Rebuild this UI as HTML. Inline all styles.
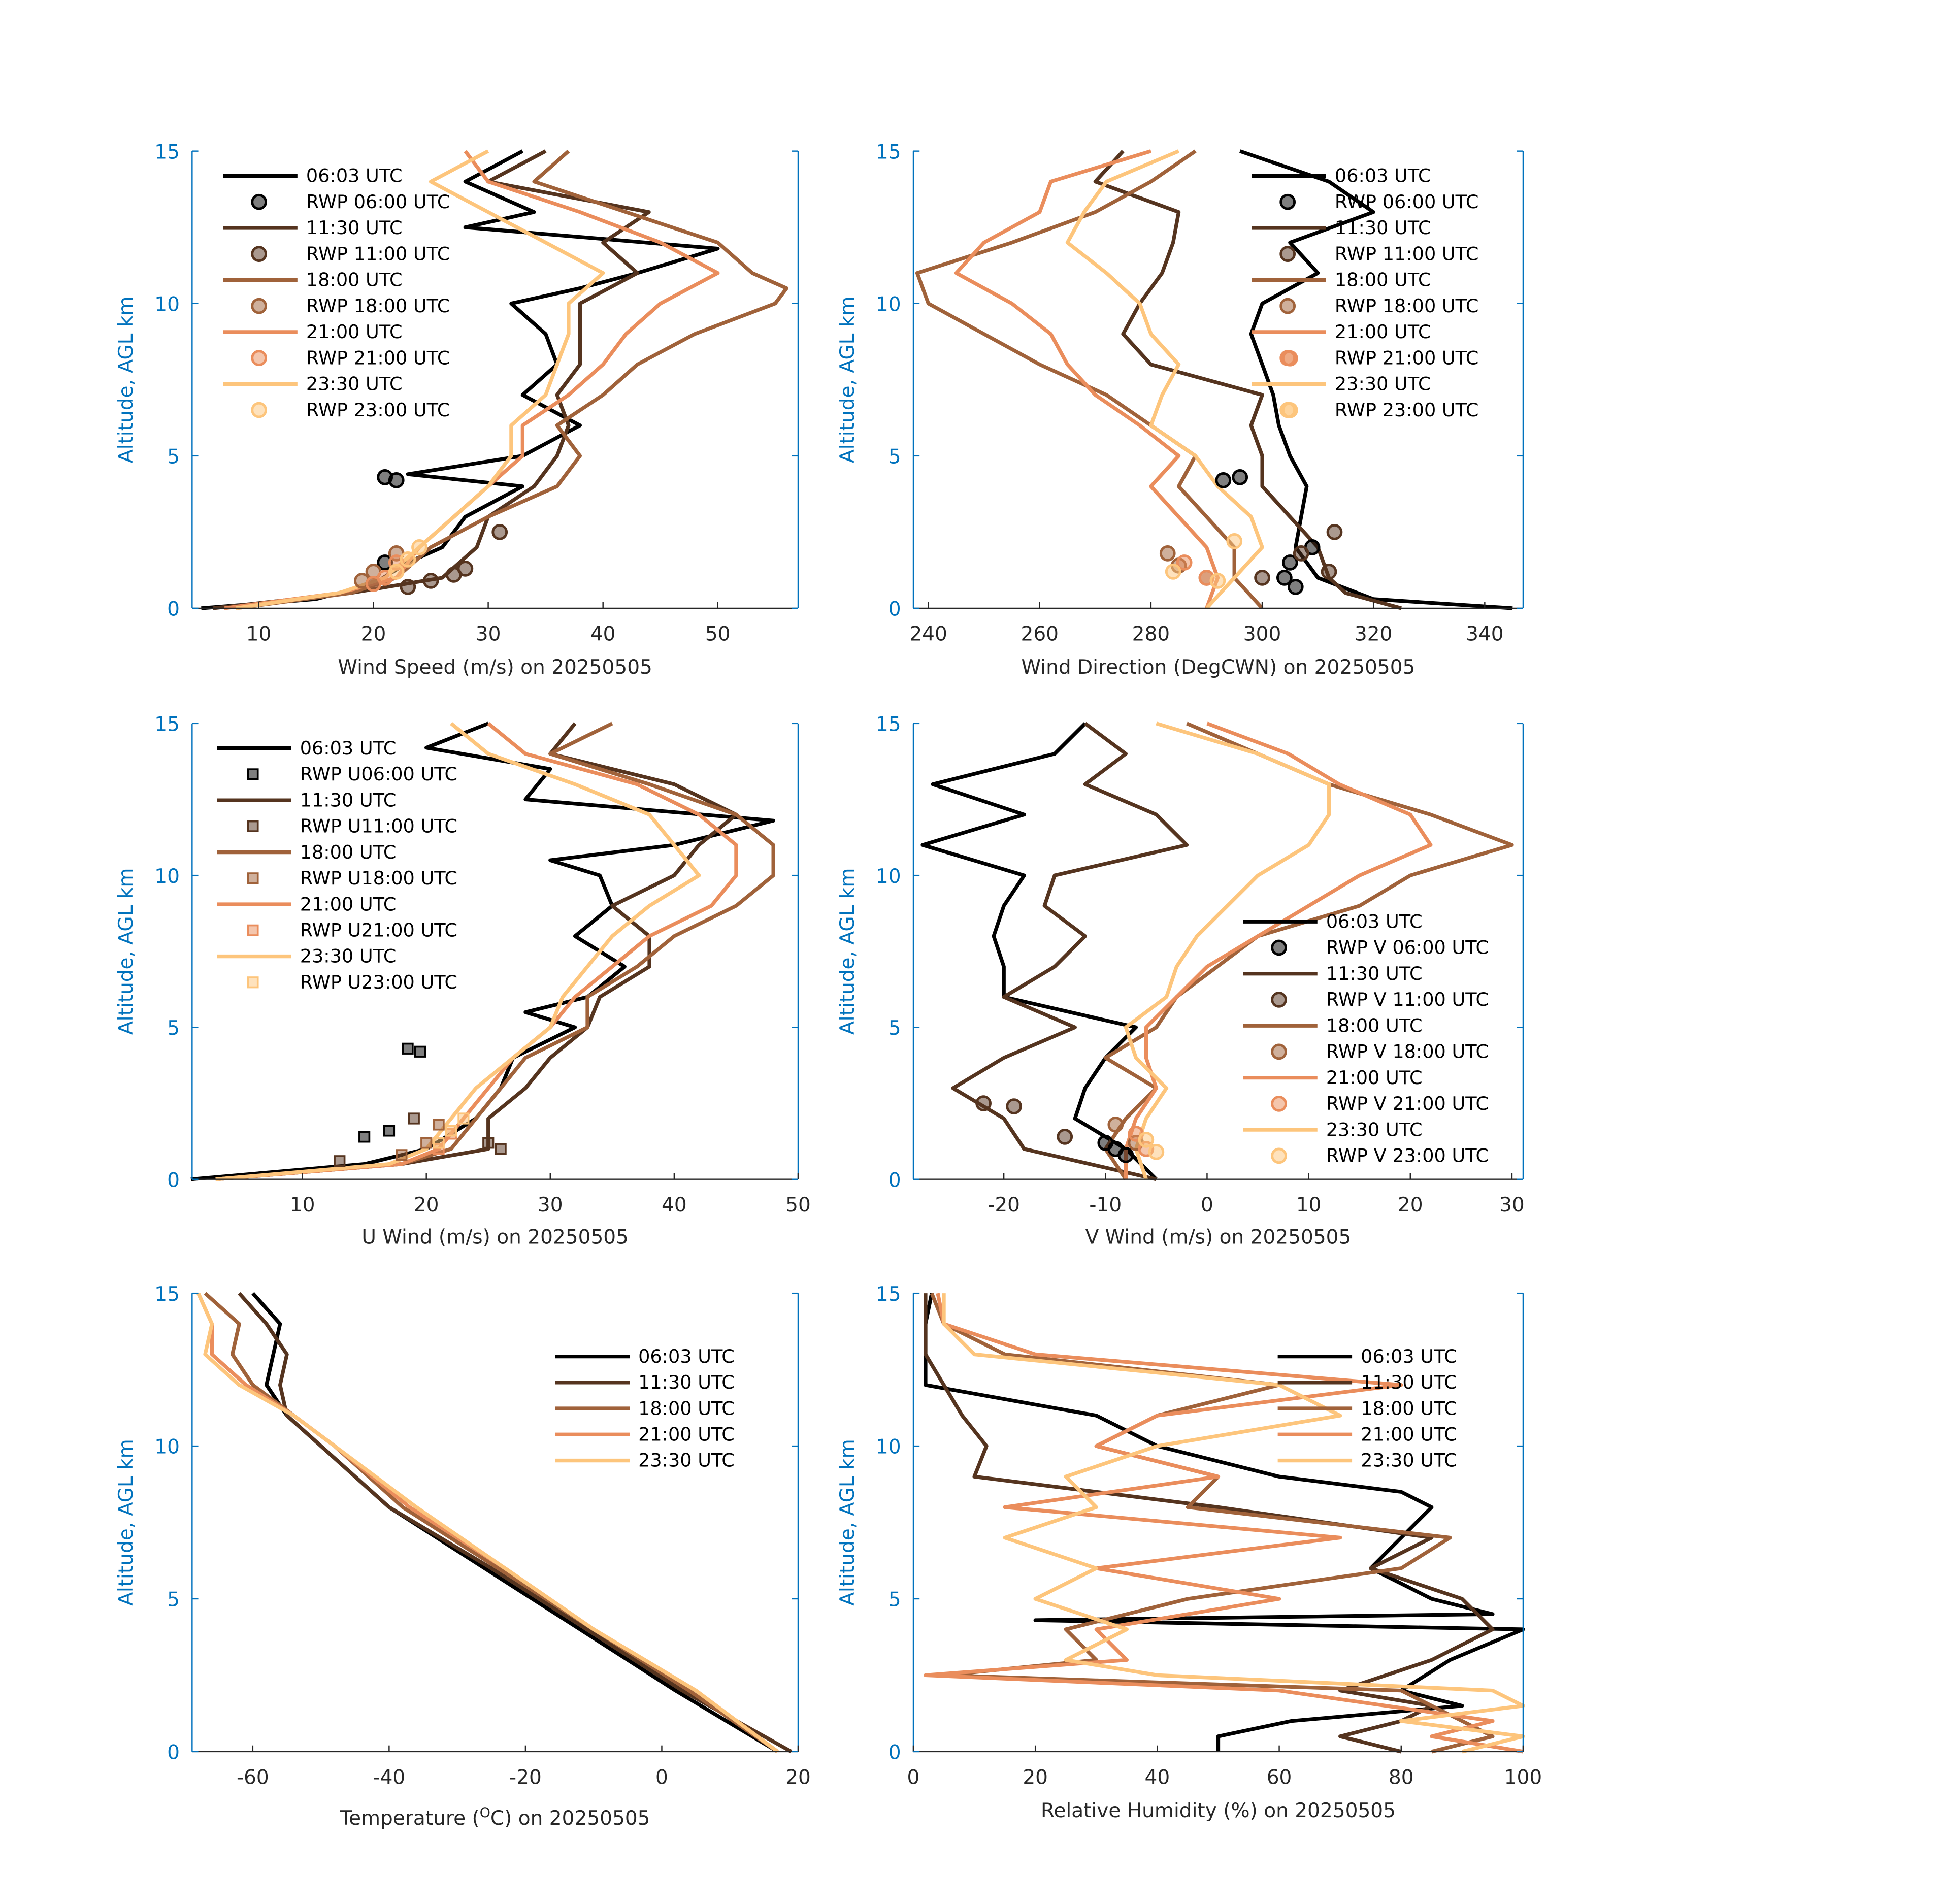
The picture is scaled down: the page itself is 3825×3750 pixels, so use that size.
<!DOCTYPE html>
<html><head><meta charset="utf-8"><style>
html,body{margin:0;padding:0;background:#fff;}
svg{display:block;font-family:"DejaVu Sans","Liberation Sans",sans-serif;}
</style></head><body>
<svg id="fig" width="3825" height="3750" viewBox="0 0 1567 1537" preserveAspectRatio="none" xmlns="http://www.w3.org/2000/svg"></svg>
<script>
const NS="http://www.w3.org/2000/svg";
const svg=document.getElementById('fig');
const COLORS=["#000000","#55341f","#a0623a","#ea8d5c","#fdc57c"];
const TIMES=["06:03 UTC","11:30 UTC","18:00 UTC","21:00 UTC","23:30 UTC"];

// ---- data arrays ----
const wsAlt=[[0,0.3,0.8,1.5,2,3,4,4.4,5,6,7,8,9,10,10.5,11,11.8,12.5,13,14,15],[0,0.5,1,2,3,4,5,6,7,8,9,10,11,12,13,14,15],[0,0.5,1,2,3,4,5,6,7,8,9,10,10.5,11,12,13,14,15],[0,0.5,1,2,3,4,5,6,7,8,9,10,11,12,13,14,15],[0,0.5,1,2,3,4,5,6,7,8,9,10,11,12,13,14,15]];
const wsVal=[[5,15,20,23,26,28,33,23,33,38,33,36,35,32,38,43,50,28,34,28,33],[6,18,26,29,30,34,36,37,36,38,38,38,43,40,44,30,35],[8,18,22,25,30,36,38,36,40,43,48,55,56,53,50,42,34,37],[7,17,22,24,27,30,33,33,37,40,42,45,50,45,38,30,28],[8,17,21,24,27,30,32,32,35,36,37,37,40,35,30,25,30]];
const wsRwpAlt=[[4.3,4.2,1.5,0.8],[1.3,1.1,0.9,0.7,2.5],[1.8,1.2,0.9],[1.5,1.0,0.8],[2.0,1.6,1.2]];
const wsRwpVal=[[21,22,21,20],[28,27,25,23,31],[22,20,19],[22,21,20],[24,23,22]];

const wdAlt=[[0,0.3,1,2,3,4,5,6,7,8,9,10,11,12,13,14,15],[0,0.5,1,2,3,4,5,6,7,8,9,10,11,12,13,14,15],[0,1,2,3,4,5,6,7,8,9,10,11,12,13,14,15],[0,1,2,3,4,5,6,7,8,9,10,11,12,13,14,15],[0,1,2,3,4,5,6,7,8,9,10,11,12,13,14,15]];
const wdVal=[[345,320,310,306,307,308,305,303,302,300,298,300,310,305,320,312,296],[325,315,312,310,305,300,300,298,300,280,275,278,282,284,285,270,275],[300,295,295,290,285,288,280,272,260,250,240,238,255,270,280,288],[290,292,290,285,280,285,278,270,265,262,255,245,250,260,262,280],[290,295,300,298,292,288,280,282,285,280,278,272,265,268,272,285]];
const wdRwpAlt=[[4.3,4.2,1.5,1.0,0.7,2.0],[1.2,1.0,2.5,1.8],[1.8,1.4,1.0],[1.5,1.0,8.2],[1.2,0.9,2.2,6.5]];
const wdRwpVal=[[296,293,305,304,306,309],[312,300,313,307],[283,285,290],[286,290,305],[284,292,295,305]];

const uAlt=[[0,0.5,1,2,3,4,5,5.5,6,7,8,9,10,10.5,11,11.8,12.5,13.5,14.2,15],[0,0.5,1,2,3,4,5,6,7,8,9,10,11,12,13,14,15],[0,0.5,1,2,3,4,5,6,7,8,9,10,11,12,13,14,15],[0,0.5,1,2,3,4,5,6,7,8,9,10,11,12,13,14,15],[0,0.5,1,2,3,4,5,6,7,8,9,10,11,12,13,14,15]];
const uVal=[[1,15,20,24,26,27,32,28,33,36,32,35,34,30,40,48,28,30,20,25],[3,18,25,25,28,30,33,34,38,38,35,40,42,45,40,30,32],[3,18,22,24,26,28,33,33,37,40,45,48,48,45,38,30,35],[3,18,21,23,25,27,30,32,35,38,43,45,45,42,37,28,25],[3,17,20,22,24,27,30,31,33,35,38,42,40,38,32,25,22]];
const uRwpAlt=[[4.3,4.2,1.4,1.6],[1.2,1.0,0.6,2.0],[1.8,1.2,0.8],[1.5,1.0],[2.0,1.6,1.2]];
const uRwpVal=[[18.5,19.5,15,17],[25,26,13,19],[21,20,18],[22,21],[23,22,21]];

const vAlt=[[0,1,2,3,4,5,6,7,8,9,10,11,12,13,14,15],[0,1,2,3,4,5,6,7,8,9,10,11,12,13,14,15],[0,1,2,3,4,5,6,7,8,9,10,11,12,13,14,15],[0,1,2,3,4,5,6,7,8,9,10,11,12,13,14,15],[0,1,2,3,4,5,6,7,8,9,10,11,12,13,14,15]];
const vVal=[[-5,-8,-13,-12,-10,-7,-20,-20,-21,-20,-18,-28,-18,-27,-15,-12],[-5,-18,-20,-25,-20,-13,-20,-15,-12,-16,-15,-2,-5,-12,-8,-12],[-8,-10,-8,-5,-10,-5,-3,1,5,15,20,30,22,12,5,-2],[-8,-8,-7,-5,-6,-6,-3,0,5,10,15,22,20,13,8,0],[-6,-7,-6,-4,-7,-8,-4,-3,-1,2,5,10,12,12,5,-5]];
const vRwpAlt=[[1.2,1.0,0.8],[2.5,2.4,1.4],[1.8,1.2],[1.5,1.0],[1.3,0.9]];
const vRwpVal=[[-10,-9,-8],[-22,-19,-14],[-9,-7],[-7,-6],[-6,-5]];

const tAlt=[[0,2,4,6,8,10,11,12,13,14,15],[0,2,4,6,8,10,11,12,13,14,15],[0,2,4,6,8,10,11,12,13,14,15],[0,2,4,6,8,10,11,12,13,14,15],[0,2,4,6,8,10,11,12,13,14,15]];
const tVal=[[17,2,-12,-26,-40,-50,-55,-58,-57,-56,-60],[19,3,-11,-25,-40,-50,-55,-56,-55,-58,-62],[17,4,-10,-24,-38,-48,-54,-60,-63,-62,-67],[17,5,-10,-23,-37,-48,-54,-61,-66,-66,-68],[17,5,-10,-23,-36,-48,-54,-62,-67,-66,-68]];

const rhAlt=[[0,0.5,1,1.5,2,3,4,4.3,4.5,5,5.5,6,7,8,8.5,9,10,10.5,11,12,13,14,15],[0,0.5,1,1.5,2,3,4,5,6,7,8,9,10,11,12,13,14,15],[0,0.5,1,2,2.5,3,4,5,6,7,8,9,10,11,12,13,14,15],[0,0.5,1,2,2.5,3,4,5,6,7,8,9,10,11,12,13,14,15],[0,0.5,1,1.5,2,2.5,3,4,5,6,7,8,9,10,11,12,13,14,15]];
const rhVal=[[50,50,62,90,80,88,100,20,95,85,80,75,80,85,80,60,40,35,30,2,2,2,3],[80,70,80,85,70,85,95,90,75,85,50,10,12,8,5,2,2,2],[85,95,90,80,5,30,25,45,80,88,45,50,30,40,60,15,5,3],[100,85,95,60,2,35,30,60,30,70,15,50,30,40,80,20,5,4],[90,100,80,100,95,40,25,35,20,30,15,30,25,40,70,60,10,5,5]];

const xTicks=[[10,20,30,40,50],[240,260,280,300,320,340],[10,20,30,40,50],[-20,-10,0,10,20,30],[-60,-40,-20,0,20],[0,20,40,60,80,100]];
const yTicks=[0,5,10,15];

function el(tag,attrs,parent){const e=document.createElementNS(NS,tag);for(const k in attrs)e.setAttribute(k,attrs[k]);(parent||svg).appendChild(e);return e;}

const panels=[
 {name:'wind-speed',x0:155,x1:644,y0:122,y1:491,xmin:4.2,xmax:57,title:'Wind Speed (m/s) on 20250505',alt:wsAlt,val:wsVal,ra:wsRwpAlt,rv:wsRwpVal,mk:'circle',leg:{x:180,y:142,labels:['RWP 06:00 UTC','RWP 11:00 UTC','RWP 18:00 UTC','RWP 21:00 UTC','RWP 23:00 UTC']},titleY:544},
 {name:'wind-direction',x0:737,x1:1229,y0:122,y1:491,xmin:237.3,xmax:346.9,title:'Wind Direction (DegCWN) on 20250505',alt:wdAlt,val:wdVal,ra:wdRwpAlt,rv:wdRwpVal,mk:'circle',leg:{x:1010,y:142,labels:['RWP 06:00 UTC','RWP 11:00 UTC','RWP 18:00 UTC','RWP 21:00 UTC','RWP 23:00 UTC']},titleY:544},
 {name:'u-wind',x0:155,x1:644,y0:584,y1:952,xmin:1.1,xmax:50,title:'U Wind (m/s) on 20250505',alt:uAlt,val:uVal,ra:uRwpAlt,rv:uRwpVal,mk:'square',leg:{x:175,y:604,labels:['RWP U06:00 UTC','RWP U11:00 UTC','RWP U18:00 UTC','RWP U21:00 UTC','RWP U23:00 UTC']},titleY:1004},
 {name:'v-wind',x0:737,x1:1229,y0:584,y1:952,xmin:-28.9,xmax:31.1,title:'V Wind (m/s) on 20250505',alt:vAlt,val:vVal,ra:vRwpAlt,rv:vRwpVal,mk:'circle',leg:{x:1003,y:744,labels:['RWP V 06:00 UTC','RWP V 11:00 UTC','RWP V 18:00 UTC','RWP V 21:00 UTC','RWP V 23:00 UTC']},titleY:1004},
 {name:'temperature',x0:155,x1:644,y0:1044,y1:1414,xmin:-68.9,xmax:20,title:null,alt:tAlt,val:tVal,ra:null,leg:{x:448,y:1095,labels:null},titleY:1473},
 {name:'relative-humidity',x0:737,x1:1229,y0:1044,y1:1414,xmin:0,xmax:100,title:'Relative Humidity (%) on 20250505',alt:rhAlt,val:rhVal,ra:null,leg:{x:1031,y:1095,labels:null},titleY:1467}
];

panels.forEach((p,pi)=>{
  const g=el('g',{});
  
  
  const sx=v=>p.x0+(v-p.xmin)/(p.xmax-p.xmin)*(p.x1-p.x0);
  const sy=a=>p.y1-a/15*(p.y1-p.y0);
  p.alt.forEach((alts,si)=>{
    const pts=alts.map((a,i)=>sx(p.val[si][i]).toFixed(1)+','+sy(a).toFixed(1)).join(' ');
    const l=el('polyline',{points:pts,fill:'none',stroke:COLORS[si],'stroke-width':3,'stroke-linejoin':'round'},g);
    
    
  });
  if(p.ra){
    p.ra.forEach((alts,si)=>{
      alts.forEach((a,i)=>{
        const cx=sx(p.rv[si][i]),cy=sy(a);
        let m;
        if(p.mk==='circle') m=el('circle',{cx:cx,cy:cy,r:5.5,fill:COLORS[si],'fill-opacity':0.5,stroke:COLORS[si],'stroke-width':2},g);
        else m=el('rect',{x:cx-4,y:cy-4,width:8,height:8,fill:COLORS[si],'fill-opacity':0.5,stroke:COLORS[si],'stroke-width':1.5},g);
        
        
      });
    });
  }
  el('line',{x1:p.x0,y1:p.y1,x2:p.x1,y2:p.y1,stroke:'#262626','stroke-width':1},g);
  el('line',{x1:p.x0,y1:p.y0,x2:p.x0,y2:p.y1,stroke:'#0072BD','stroke-width':1},g);
  el('line',{x1:p.x1,y1:p.y0,x2:p.x1,y2:p.y1,stroke:'#0072BD','stroke-width':1},g);
  xTicks[pi].forEach(t=>{
    const x=sx(t);
    el('line',{x1:x,y1:p.y1,x2:x,y2:p.y1-5,stroke:'#262626','stroke-width':1},g);
    const tx=el('text',{x:x,y:p.y1+26,'text-anchor':'middle','font-size':16,fill:'#262626'},g);tx.textContent=t;
    
    
  });
  yTicks.forEach(t=>{
    const y=sy(t);
    el('line',{x1:p.x0,y1:y,x2:p.x0+5,y2:y,stroke:'#0072BD','stroke-width':1},g);
    el('line',{x1:p.x1,y1:y,x2:p.x1-5,y2:y,stroke:'#0072BD','stroke-width':1},g);
    const ty=el('text',{x:p.x0-10,y:y+6,'text-anchor':'end','font-size':16,fill:'#0072BD'},g);ty.textContent=t;
    
    
  });
  const yl=el('text',{x:0,y:0,'text-anchor':'middle','font-size':16,fill:'#0072BD',transform:`translate(${p.x0-48},${(p.y0+p.y1)/2}) rotate(-90)`},g);
  yl.textContent='Altitude, AGL km';
  
  
  const xl=el('text',{x:(p.x0+p.x1)/2,y:p.titleY,'text-anchor':'middle','font-size':16,fill:'#262626'},g);
  if(p.title) xl.textContent=p.title;
  else { xl.appendChild(document.createTextNode('Temperature (')); const ts=el('tspan',{'baseline-shift':'super','font-size':11},xl); ts.textContent='O'; xl.appendChild(document.createTextNode('C) on 20250505')); }
  
  
  const lg=el('g',{},g);
  
  
  let row=0;
  for(let si=0;si<5;si++){
    const y=p.leg.y+row*21;
    el('line',{x1:p.leg.x,y1:y,x2:p.leg.x+60,y2:y,stroke:COLORS[si],'stroke-width':3},lg);
    const t=el('text',{x:p.leg.x+67,y:y+5,'font-size':15,fill:'#000'},lg);t.textContent=TIMES[si];
    
    
    row++;
    if(p.leg.labels){
      const y2=p.leg.y+row*21;
      const cx=p.leg.x+29;
      if(p.mk==='circle') el('circle',{cx:cx,cy:y2,r:5.5,fill:COLORS[si],'fill-opacity':0.5,stroke:COLORS[si],'stroke-width':2},lg);
      else el('rect',{x:cx-4,y:y2-4,width:8,height:8,fill:COLORS[si],'fill-opacity':0.5,stroke:COLORS[si],'stroke-width':1.5},lg);
      const t2=el('text',{x:p.leg.x+67,y:y2+5,'font-size':15,fill:'#000'},lg);t2.textContent=p.leg.labels[si];
      
      
      row++;
    }
  }
});
</script>
</body></html>
